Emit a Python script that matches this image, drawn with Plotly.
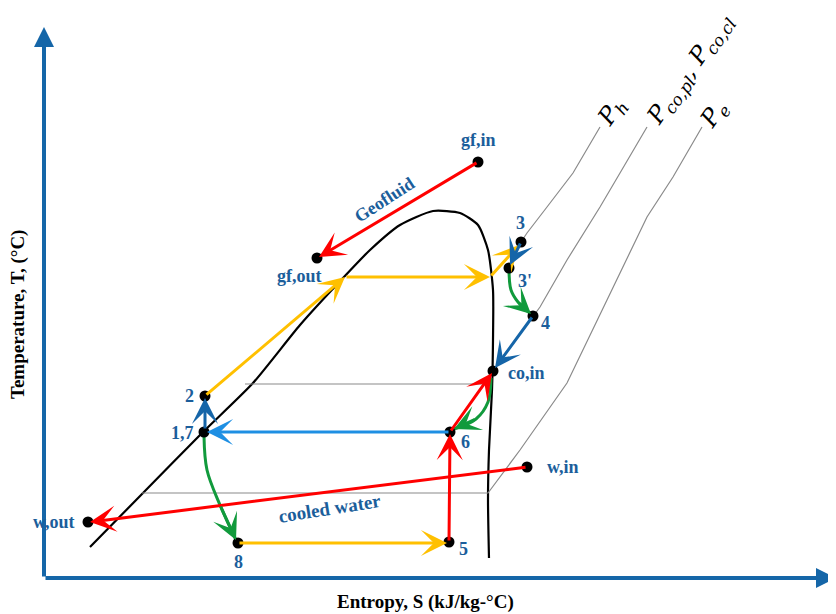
import plotly.graph_objects as go

# ---- state points (S, T in arbitrary schematic units) ----
pt_names = ["gf,in", "gf,out", "3", "3'", "4", "co,in", "6", "5", "8", "1,7", "2", "w,out", "w,in"]
pt_S = [434, 273, 477, 465, 489, 449, 406, 405, 194, 160, 161, 44, 483]
pt_T = [416, 320, 336, 310, 262, 207, 146, 36, 35, 146, 182, 56, 111]
P = {n: (s, t) for n, s, t in zip(pt_names, pt_S, pt_T)}

# saturated liquid / vapour junctions on the high-pressure line
sat_liq = (301, 301)
sat_vap = (446, 301)

# saturation dome
dome_S = [46, 99, 159, 209, 256, 299, 326, 356, 389, 416, 434, 444, 449, 449, 448, 445, 444, 445]
dome_T = [31, 85, 146, 195, 253, 300, 328, 353, 367, 365, 353, 328, 288, 238, 188, 128, 78, 20]

# isobars
ph_S = [477, 483, 503, 529, 556]
ph_T = [336, 345, 371, 405, 451]
pco_S = [201, 445, 449, 489, 496, 523, 556, 576, 603]
pco_T = [194, 194, 207, 262, 271, 318, 371, 405, 451]
pe_S = [98, 444, 476, 523, 563, 603, 629, 658]
pe_T = [85, 85, 128, 195, 278, 361, 401, 451]

# curved (green) processes
c34_S = [465, 467, 474, 487]
c34_T = [310, 288, 276, 264]
cco6_S = [447, 444, 432, 410]
cco6_T = [200, 176, 159, 149]
c18_S = [160, 163, 176, 192]
c18_T = [142, 108, 73, 38]

RED = "#ff0000"
YEL = "#ffc000"
GRN = "#119a3c"
DBL = "#1565a8"
LBL = "#1e8fe3"
TXT = "#1b5e9b"
AXC = "#1566a8"

fig = go.Figure()

fig.add_trace(go.Scatter(x=dome_S, y=dome_T, mode="lines", line=dict(color="black", width=2.2, shape="spline", smoothing=0.6), hoverinfo="skip"))
for xs, ys in [(ph_S, ph_T), (pco_S, pco_T), (pe_S, pe_T)]:
    fig.add_trace(go.Scatter(x=xs, y=ys, mode="lines", line=dict(color="#8a8a8a", width=1.2), hoverinfo="skip"))

for xs, ys in [(c34_S, c34_T), (cco6_S, cco6_T), (c18_S, c18_T)]:
    fig.add_trace(go.Scatter(x=xs, y=ys, mode="lines", line=dict(color=GRN, width=3, shape="spline"), hoverinfo="skip"))

fig.add_trace(go.Scatter(x=pt_S, y=pt_T, mode="markers", marker=dict(color="black", size=11), hoverinfo="skip"))

ann = []

def arrow(tail, head, color, width=3, size=1.45, style=3):
    ann.append(dict(x=head[0], y=head[1], ax=tail[0], ay=tail[1], xref="x", yref="y",
                    axref="x", ayref="y", text="", showarrow=True, arrowhead=style,
                    arrowsize=size, arrowwidth=width, arrowcolor=color))

# yellow: heating / pumping
arrow(P["2"], sat_liq, YEL)
arrow(sat_liq, sat_vap, YEL)
arrow(sat_vap, (475, 333), YEL)
arrow(P["8"], (403, 35), YEL)
# dark blue
arrow(P["3"], (466, 313), DBL)
arrow(P["4"], (451, 210), DBL)
arrow((161, 148), (161, 180), DBL)
# light blue
arrow(P["6"], (163, 146), LBL)
# red
arrow(P["gf,in"], (275, 321), RED)
arrow(P["5"], (406, 144), RED)
arrow(P["6"], (448, 205), RED)
arrow(P["w,in"], (46, 56), RED)
# green arrow heads on curves
arrow((c34_S[-2], c34_T[-2]), (c34_S[-1], c34_T[-1]), GRN)
arrow((cco6_S[-2], cco6_T[-2]), (cco6_S[-1], cco6_T[-1]), GRN)
arrow((c18_S[-2], c18_T[-2]), (c18_S[-1], c18_T[-1]), GRN)

# axes with arrows
arrow((0, 0), (0, 551), AXC, width=4, size=1.0, style=2)
arrow((0, 0), (792, 0), AXC, width=4, size=1.0, style=2)

# point labels (pixel offsets)
label_shift = {"gf,in": (0, 22), "gf,out": (-18, -18), "3": (-1, 19), "3'": (16, -13),
               "4": (12, -7), "co,in": (33, -2), "6": (15, -10), "5": (14, -7), "8": (0, -19),
               "1,7": (-22, -1), "2": (-16, 0), "w,out": (-34, 0), "w,in": (36, 0)}
for n in pt_names:
    dx, dy = label_shift[n]
    ann.append(dict(x=P[n][0], y=P[n][1], xref="x", yref="y", text="<b>%s</b>" % n, showarrow=False,
                    xshift=dx, yshift=dy, font=dict(family="Liberation Serif", size=18, color=TXT)))

ann.append(dict(x=340, y=378, xref="x", yref="y", text="<b>Geofluid</b>", showarrow=False, textangle=-33,
                font=dict(family="Liberation Serif", size=18, color=TXT)))
ann.append(dict(x=285, y=70, xref="x", yref="y", text="<b>cooled water</b>", showarrow=False, textangle=-9,
                font=dict(family="Liberation Serif", size=19, color=TXT)))

pfont = dict(family="DejaVu Serif", size=24, color="black")
ann.append(dict(x=568, y=466, xref="x", yref="y", text="<i>P</i><sub><i>h</i></sub>", showarrow=False, textangle=-55, font=pfont))
ann.append(dict(x=646, y=508, xref="x", yref="y", text="<i>P</i><sub><i>co,pl</i></sub><i>, P</i><sub><i>co,cl</i></sub>", showarrow=False, textangle=-55, font=pfont))
ann.append(dict(x=670, y=463, xref="x", yref="y", text="<i>P</i><sub><i>e</i></sub>", showarrow=False, textangle=-55, font=pfont))

# axis titles
ann.append(dict(x=-26, y=263, xref="x", yref="y", text="<b>Temperature, T, (°C)</b>", showarrow=False, textangle=-90,
                font=dict(family="Liberation Serif", size=19, color="black")))
ann.append(dict(x=381, y=-24, xref="x", yref="y", text="<b>Entropy, S (kJ/kg-°C)</b>", showarrow=False,
                font=dict(family="Liberation Serif", size=19, color="black")))

fig.update_layout(width=828, height=606, margin=dict(l=0, r=0, t=0, b=0), showlegend=False,
                  paper_bgcolor="white", plot_bgcolor="white", annotations=ann,
                  xaxis=dict(range=[-36, 792], visible=False, fixedrange=True),
                  yaxis=dict(range=[-36, 570], visible=False, fixedrange=True))

fig.write_html("out.html")
